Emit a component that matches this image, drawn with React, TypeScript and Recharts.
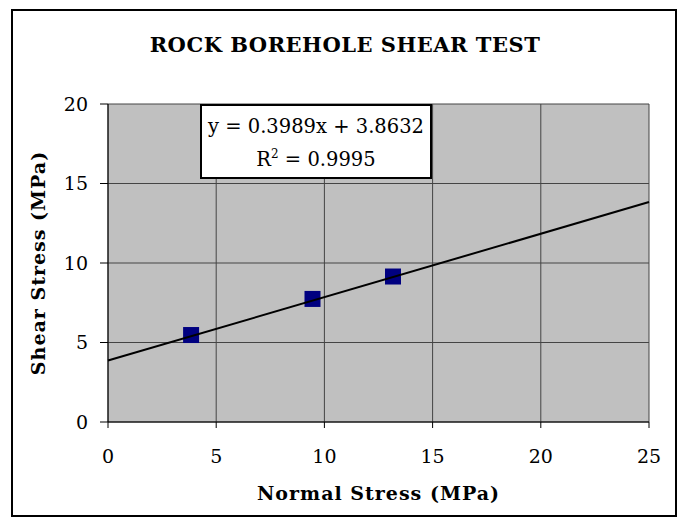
import { ScatterChart, Scatter, XAxis, YAxis, CartesianGrid } from 'recharts'

const normalStress = [3.84, 9.45, 13.17]
const shearStress = [5.47, 7.74, 9.15]
const xTicks = [0, 5, 10, 15, 20, 25]
const yTicks = [0, 5, 10, 15, 20]

// trendline as printed on the chart
const slope = 0.3989
const intercept = 3.8632
const trendX = [0, 25]

const points = normalStress.map((x, i) => ({ x, y: shearStress[i] }))
const trend = trendX.map(x => ({ x, y: slope * x + intercept }))

const serif = '"DejaVu Serif", serif'

const SquareMarker = (props: any) => {
  const { cx, cy } = props
  if (cx == null || cy == null) return <g />
  return <rect x={cx - 8} y={cy - 8} width={16} height={16} fill="#000080" />
}

export default function App() {
  return (
    <div style={{ position: 'absolute', left: 0, top: 0, width: 683, height: 523, background: '#fff', fontFamily: serif }}>
      <div
        style={{
          position: 'absolute', left: 11, top: 9, width: 666, height: 508,
          border: '2px solid #000', boxSizing: 'border-box',
        }}
      />
      <div
        style={{
          position: 'absolute', left: 0, width: 690, top: 31, textAlign: 'center',
          fontSize: 21, fontWeight: 'bold', lineHeight: '28px', letterSpacing: 0.5,
        }}
      >
        ROCK BOREHOLE SHEAR TEST
      </div>

      <div style={{ position: 'absolute', left: 0, top: 0 }}>
        <ScatterChart width={683} height={523} margin={{ top: 104, right: 34, bottom: 51, left: 8 }}>
          <CartesianGrid fill="#c0c0c0" stroke="#444" strokeWidth={1} />
          <XAxis
            type="number"
            dataKey="x"
            domain={[0, 25]}
            ticks={xTicks}
            height={50}
            tickSize={6}
            tickMargin={22}
            tick={{ fill: '#000', fontSize: 19, fontFamily: serif }}
            axisLine={{ stroke: '#000' }}
            tickLine={{ stroke: '#000' }}
          />
          <YAxis
            type="number"
            dataKey="y"
            domain={[0, 20]}
            ticks={yTicks}
            width={100}
            tickSize={8}
            tickMargin={12}
            tick={{ fill: '#000', fontSize: 19, fontFamily: serif }}
            axisLine={{ stroke: '#000' }}
            tickLine={{ stroke: '#000' }}
          />
          <Scatter data={points} shape={SquareMarker} isAnimationActive={false} />
          <Scatter
            data={trend}
            line={{ stroke: '#000', strokeWidth: 2 }}
            lineType="joint"
            shape={() => <g />}
            isAnimationActive={false}
          />
        </ScatterChart>
      </div>

      <div
        style={{
          position: 'absolute', left: 38, top: 263, transform: 'translate(-50%, -50%) rotate(-90deg)',
          whiteSpace: 'nowrap', fontSize: 19, fontWeight: 'bold', letterSpacing: 1,
        }}
      >
        Shear Stress (MPa)
      </div>
      <div
        style={{
          position: 'absolute', left: 108, width: 541, top: 480, textAlign: 'center',
          fontSize: 19, fontWeight: 'bold', lineHeight: '26px', letterSpacing: 1,
        }}
      >
        Normal Stress (MPa)
      </div>

      <div
        style={{
          position: 'absolute', left: 200, top: 104, width: 232, height: 75,
          border: '2px solid #000', boxSizing: 'border-box', background: '#fff',
          textAlign: 'center', fontSize: 19.5, lineHeight: '33px', paddingTop: 4,
        }}
      >
        <div>y = 0.3989x + 3.8632</div>
        <div>
          R<sup style={{ fontSize: 12, verticalAlign: 8, lineHeight: 0 }}>2</sup> = 0.9995
        </div>
      </div>
    </div>
  )
}
